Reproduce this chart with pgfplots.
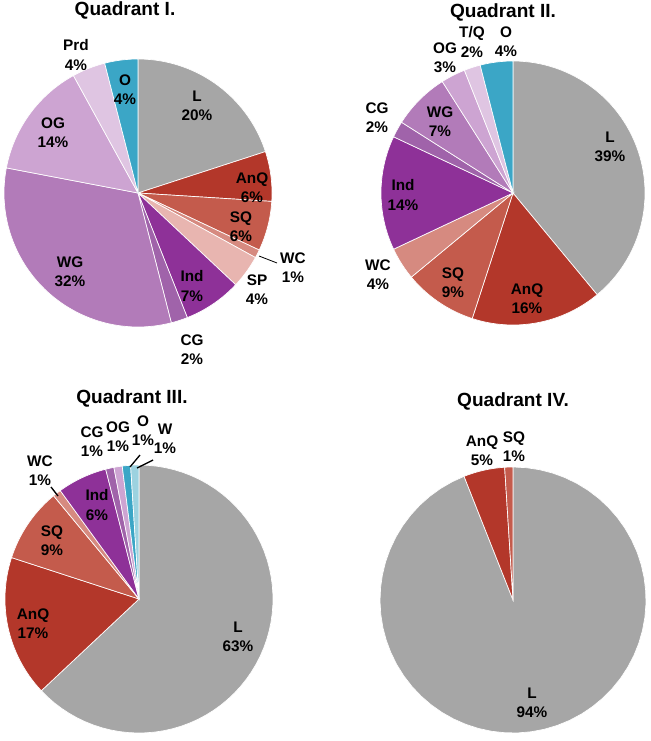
\documentclass[border=0pt]{standalone}
\usepackage{pgfplots}
\pgfplotsset{compat=1.18}
\usepackage{fontspec}
\setmainfont{Liberation Sans}

\definecolor{cL}{HTML}{A6A6A6}
\definecolor{cAnQ}{HTML}{B3372A}
\definecolor{cSQ}{HTML}{C45B4C}
\definecolor{cWC}{HTML}{D68A80}
\definecolor{cSP}{HTML}{E8B5B0}
\definecolor{cInd}{HTML}{8E3198}
\definecolor{cCG}{HTML}{A063AA}
\definecolor{cWG}{HTML}{B27BB9}
\definecolor{cOG}{HTML}{CDA4D2}
\definecolor{cPrd}{HTML}{DFC5E2}
\definecolor{cO}{HTML}{3BA6C6}
\definecolor{cW}{HTML}{9CD2E0}

% one pie: centre x, centre y, radius (pixel units of the picture)
\newcommand\pie[3]{\gdef\pcx{#1}\gdef\pcy{#2}\gdef\pr{#3}\gdef\pcum{0}}
% one slice, clockwise from 12 o'clock: percentage, colour
\newcommand\slice[2]{%
  \pgfmathsetmacro\pa{3.6*\pcum}%
  \pgfmathsetmacro\pb{3.6*(\pcum+#1)}%
  \pgfmathsetmacro\pn{\pcum+#1}\xdef\pcum{\pn}%
  \edef\doslice{\noexpand\addplot[fill=#2, draw=white, line width=0.5pt,
      domain=\pa:\pb, samples=60]
    ({\pcx+\pr*sin(x)}, {\pcy-\pr*cos(x)}) -- (\pcx,\pcy) -- cycle;}%
  \doslice}

\tikzset{lab/.style={align=center, inner sep=0pt,
    font=\fontsize{11.5}{14.5}\selectfont\bfseries},
  ttl/.style={inner sep=0pt, font=\fontsize{14.3}{16}\selectfont\bfseries}}

\begin{document}
\begin{tikzpicture}
\useasboundingbox (0,0) rectangle (487.5pt,555.75pt);
\begin{axis}[
    hide axis,
    x=0.75pt, y=0.75pt,
    y dir=reverse,
    xmin=0, xmax=650, ymin=0, ymax=741,
    clip=false,
    anchor=south west, at={(0,0)},
  ]
  % Quadrant I
  \pie{138}{193}{134}
  \slice{20}{cL}
  \slice{6}{cAnQ}
  \slice{6}{cSQ}
  \slice{1}{cWC}
  \slice{4}{cSP}
  \slice{7}{cInd}
  \slice{2}{cCG}
  \slice{32}{cWG}
  \slice{14}{cOG}
  \slice{4}{cPrd}
  \slice{4}{cO}

  % Quadrant II
  \pie{513}{193}{132}
  \slice{39}{cL}
  \slice{16}{cAnQ}
  \slice{9}{cSQ}
  \slice{4}{cWC}
  \slice{14}{cInd}
  \slice{2}{cCG}
  \slice{7}{cWG}
  \slice{3}{cOG}
  \slice{2}{cPrd}
  \slice{4}{cO}

  % Quadrant III
  \pie{139}{599}{134}
  \slice{63}{cL}
  \slice{17}{cAnQ}
  \slice{9}{cSQ}
  \slice{1}{cWC}
  \slice{6}{cInd}
  \slice{1}{cCG}
  \slice{1}{cOG}
  \slice{1}{cO}
  \slice{1}{cW}

  % Quadrant IV
  \pie{513}{600}{133}
  \slice{94}{cL}
  \slice{5}{cAnQ}
  \slice{1}{cSQ}

  % titles
  \node[ttl] at (125,10) {Quadrant I.};
  \node[ttl] at (503,12) {Quadrant II.};
  \node[ttl] at (132,398) {Quadrant III.};
  \node[ttl] at (513,401) {Quadrant IV.};

  % labels, quadrant I
  \node[lab] at (76,55) {Prd\\4\%};
  \node[lab] at (125,90) {O\\4\%};
  \node[lab] at (197,106) {L\\20\%};
  \node[lab] at (53,133) {OG\\14\%};
  \node[lab] at (252,188) {AnQ\\6\%};
  \node[lab] at (241,227) {SQ\\6\%};
  \node[lab] at (293,268) {WC\\1\%};
  \node[lab] at (257,290) {SP\\4\%};
  \node[lab] at (192,286) {Ind\\7\%};
  \node[lab] at (70,272) {WG\\32\%};
  \node[lab] at (192,350) {CG\\2\%};
  \draw[black, line width=0.6pt] (259,256) -- (277,263);

  % labels, quadrant II
  \node[lab] at (445,58) {OG\\3\%};
  \node[lab] at (472,42) {T/Q\\2\%};
  \node[lab] at (506,42) {O\\4\%};
  \node[lab] at (377,118) {CG\\2\%};
  \node[lab] at (440,122) {WG\\7\%};
  \node[lab] at (610,147) {L\\39\%};
  \node[lab] at (403,195) {Ind\\14\%};
  \node[lab] at (378,275) {WC\\4\%};
  \node[lab] at (453,283) {SQ\\9\%};
  \node[lab] at (527,299) {AnQ\\16\%};

  % labels, quadrant III
  \node[lab] at (92,442) {CG\\1\%};
  \node[lab] at (118,437) {OG\\1\%};
  \node[lab] at (143,431) {O\\1\%};
  \node[lab] at (165,439) {W\\1\%};
  \node[lab] at (40,471) {WC\\1\%};
  \node[lab] at (97,505) {Ind\\6\%};
  \node[lab] at (52,541) {SQ\\9\%};
  \node[lab] at (33,624) {AnQ\\17\%};
  \node[lab] at (238,637) {L\\63\%};
  \draw[black, line width=1pt] (51,487) -- (58,496);
  \draw[black, line width=1pt] (130,467) -- (140,455);
  \draw[black, line width=1pt] (137,468) -- (153,460);

  % labels, quadrant IV
  \node[lab] at (482,451) {AnQ\\5\%};
  \node[lab] at (514,447) {SQ\\1\%};
  \node[lab] at (532,703) {L\\94\%};
\end{axis}
\end{tikzpicture}
\end{document}
